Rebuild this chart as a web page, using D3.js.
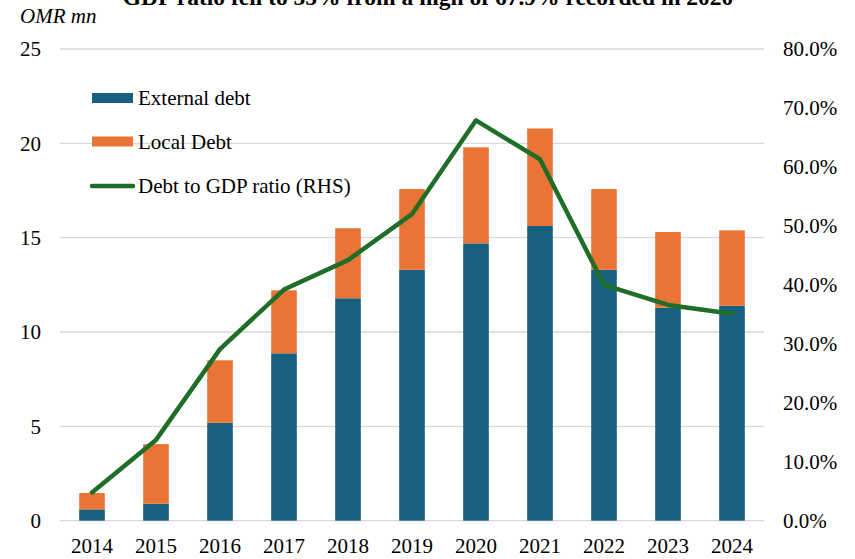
<!DOCTYPE html>
<html><head><meta charset="utf-8">
<script src="https://cdn.jsdelivr.net/npm/d3@7"></script>
<style>body{margin:0;background:#fff}svg{display:block}text{font-family:"Liberation Serif","Times New Roman",serif;fill:#000}</style>
</head><body>
<svg id="c" width="855" height="559"></svg>
<script>
const years = ["2014","2015","2016","2017","2018","2019","2020","2021","2022","2023","2024"];
const externalDebt = [0.60,0.90,5.19,8.87,11.79,13.30,14.70,15.62,13.30,11.29,11.39];
const localDebt = [0.87,3.16,3.31,3.34,3.71,4.28,5.09,5.17,4.28,4.01,4.00];
const debtToGdp = [4.8,13.7,29.1,39.2,44.2,52.0,67.9,61.3,40.0,36.6,35.1];
const leftTicks = [0,5,10,15,20,25];
const rightTicks = [0,10,20,30,40,50,60,70,80];
const seriesNames = ["External debt","Local Debt","Debt to GDP ratio (RHS)"];
const colors = {ext:"#17607f", loc:"#ea7435", line:"#1f6e28"};

const svg = d3.select("#c");
const x = d3.scaleBand().domain(years).range([60,764]).paddingInner(0.6).paddingOuter(0.3);
const yL = d3.scaleLinear().domain([0,25]).range([520.7,49]);
const yR = d3.scaleLinear().domain([0,80]).range([520.7,49]);

// title (partially cut off at top, as in the reference)
svg.append("text").attr("x",428).attr("y",5).attr("text-anchor","middle")
  .attr("font-weight","bold").attr("font-size",23.5)
  .text("GDP ratio fell to 35% from a high of 67.9% recorded in 2020");
svg.append("text").attr("x",20).attr("y",23).attr("font-style","italic").attr("font-size",21).text("OMR mn");

// gridlines
svg.append("g").selectAll("line").data(leftTicks).join("line")
  .attr("x1",60).attr("x2",764).attr("y1",d=>yL(d)).attr("y2",d=>yL(d))
  .attr("stroke","#d9d9d9").attr("stroke-width",1.3);

// left axis
const gl = svg.append("g").attr("transform","translate(60,0)")
  .call(d3.axisLeft(yL).tickValues(leftTicks).tickSize(0).tickPadding(19).tickFormat(d3.format("d")));
gl.select(".domain").remove();
gl.selectAll("text").attr("font-size",21).style("font-family","Liberation Serif");

// right axis
const gr = svg.append("g").attr("transform","translate(764,0)")
  .call(d3.axisRight(yR).tickValues(rightTicks).tickSize(0).tickPadding(19).tickFormat(d=>d.toFixed(1)+"%"));
gr.select(".domain").remove();
gr.selectAll("text").attr("font-size",21).style("font-family","Liberation Serif");

// bottom axis
const gb = svg.append("g").attr("transform","translate(0,520.7)")
  .call(d3.axisBottom(x).tickSize(0).tickPadding(17));
gb.select(".domain").remove();
gb.selectAll("text").attr("font-size",21).style("font-family","Liberation Serif");

// bars
const bw = x.bandwidth();
svg.append("g").selectAll("rect").data(years).join("rect")
  .attr("x",d=>x(d)).attr("width",bw)
  .attr("y",(d,i)=>yL(externalDebt[i])).attr("height",(d,i)=>yL(0)-yL(externalDebt[i]))
  .attr("fill",colors.ext);
svg.append("g").selectAll("rect").data(years).join("rect")
  .attr("x",d=>x(d)).attr("width",bw)
  .attr("y",(d,i)=>yL(externalDebt[i]+localDebt[i])).attr("height",(d,i)=>yL(externalDebt[i])-yL(externalDebt[i]+localDebt[i]))
  .attr("fill",colors.loc);

// line
const line = d3.line().x((d,i)=>x(years[i])+bw/2).y(d=>yR(d));
svg.append("path").datum(debtToGdp).attr("d",line).attr("fill","none")
  .attr("stroke",colors.line).attr("stroke-width",4.5).attr("stroke-linejoin","round").attr("stroke-linecap","round");

// legend
const lg = svg.append("g");
const ly = [98,141.5,186];
lg.append("rect").attr("x",92).attr("y",ly[0]-5).attr("width",41).attr("height",10).attr("fill",colors.ext);
lg.append("rect").attr("x",92).attr("y",ly[1]-5).attr("width",41).attr("height",10).attr("fill",colors.loc);
lg.append("line").attr("x1",92).attr("x2",133).attr("y1",ly[2]).attr("y2",ly[2])
  .attr("stroke",colors.line).attr("stroke-width",4.5).attr("stroke-linecap","round");
lg.selectAll("text").data(seriesNames).join("text")
  .attr("x",138).attr("y",(d,i)=>ly[i]).attr("dy","0.35em").attr("font-size",21).text(d=>d);
</script>
</body></html>
